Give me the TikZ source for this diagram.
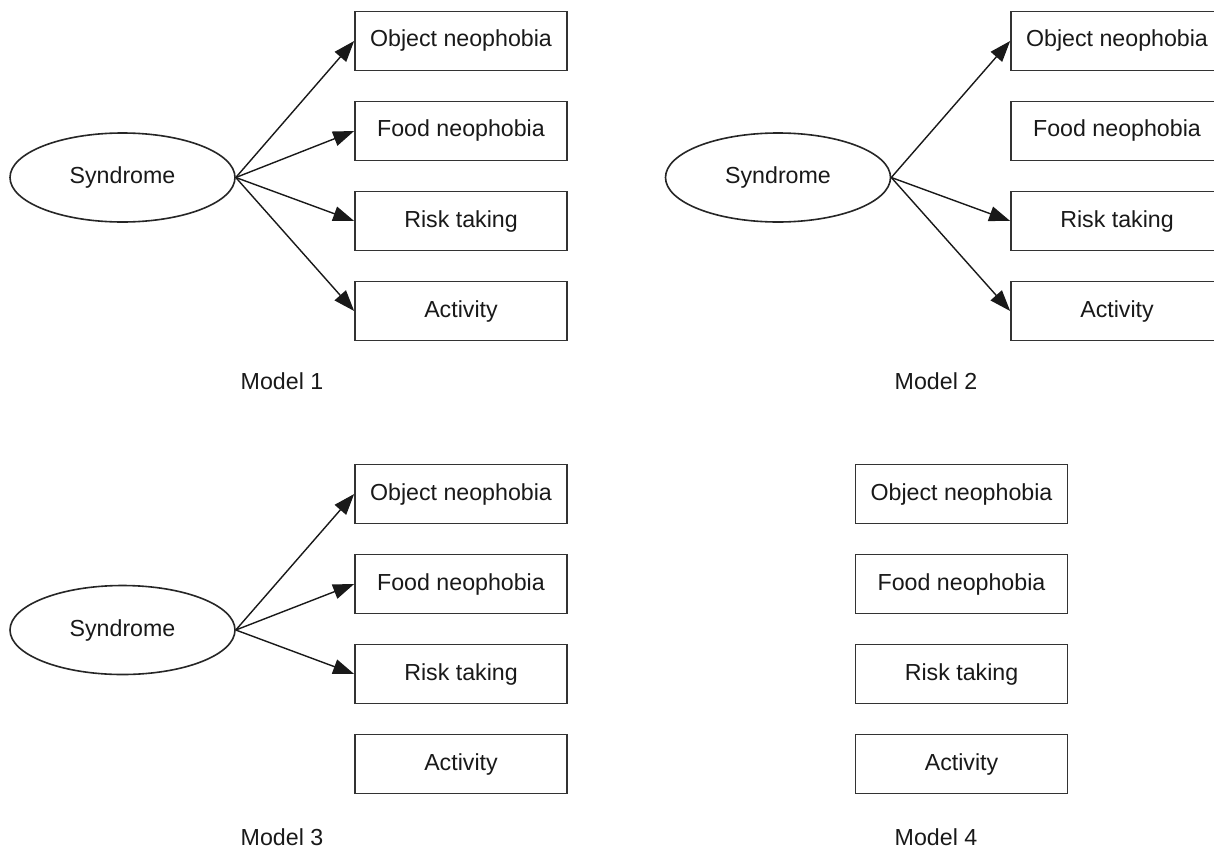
\documentclass[tikz,border=0pt]{standalone}
\usepackage{fontspec}
\setmainfont{Liberation Sans}
\usetikzlibrary{shapes.geometric,arrows.meta}
\begin{document}
\begin{tikzpicture}[x=1pt,y=-1pt,
  every node/.style={font=\fontsize{23.2}{28}\selectfont, text=black!90},
  synd/.style={ellipse, draw=black!85, line width=1.6pt, minimum width=225pt, minimum height=89pt, inner sep=0pt},
  box/.style={rectangle, draw=black!80, line width=1.7pt, minimum width=212pt, minimum height=59pt, inner sep=0pt},
  conn/.style={draw=black!90, line width=1.4pt, -{Triangle[length=21pt,width=15pt]}},
  lbl/.style={inner sep=0pt}]
\useasboundingbox (0,0) rectangle (1214,851);
\clip (0,0) rectangle (1214,851);
\fill[white] (0,0) rectangle (1214,851);
% Model 1
\node[synd] (s1) at (122.5,177.5) {Syndrome};
\node[box] (o1) at (461,41) {Object neophobia};
\node[box] (f1) at (461,131) {Food neophobia};
\node[box] (r1) at (461,221) {Risk taking};
\node[box] (a1) at (461,311) {Activity};
\node[lbl] (m1) at (282,381) {Model 1};
\draw[conn] (s1.east) -- (o1.west);
\draw[conn] (s1.east) -- (f1.west);
\draw[conn] (s1.east) -- (r1.west);
\draw[conn] (s1.east) -- (a1.west);
% Model 2
\node[synd] (s2) at (778,177.5) {Syndrome};
\node[box] (o2) at (1117,41) {Object neophobia};
\node[box] (f2) at (1117,131) {Food neophobia};
\node[box] (r2) at (1117,221) {Risk taking};
\node[box] (a2) at (1117,311) {Activity};
\node[lbl] (m2) at (936,381) {Model 2};
\draw[conn] (s2.east) -- (o2.west);
\draw[conn] (s2.east) -- (r2.west);
\draw[conn] (s2.east) -- (a2.west);
% Model 3
\node[synd] (s3) at (122.5,630) {Syndrome};
\node[box] (o3) at (461,494) {Object neophobia};
\node[box] (f3) at (461,584) {Food neophobia};
\node[box] (r3) at (461,674) {Risk taking};
\node[box] (a3) at (461,764) {Activity};
\node[lbl] (m3) at (282,837) {Model 3};
\draw[conn] (s3.east) -- (o3.west);
\draw[conn] (s3.east) -- (f3.west);
\draw[conn] (s3.east) -- (r3.west);
% Model 4
\node[box] (o4) at (961.5,494) {Object neophobia};
\node[box] (f4) at (961.5,584) {Food neophobia};
\node[box] (r4) at (961.5,674) {Risk taking};
\node[box] (a4) at (961.5,764) {Activity};
\node[lbl] (m4) at (936,837) {Model 4};
\end{tikzpicture}
\end{document}
